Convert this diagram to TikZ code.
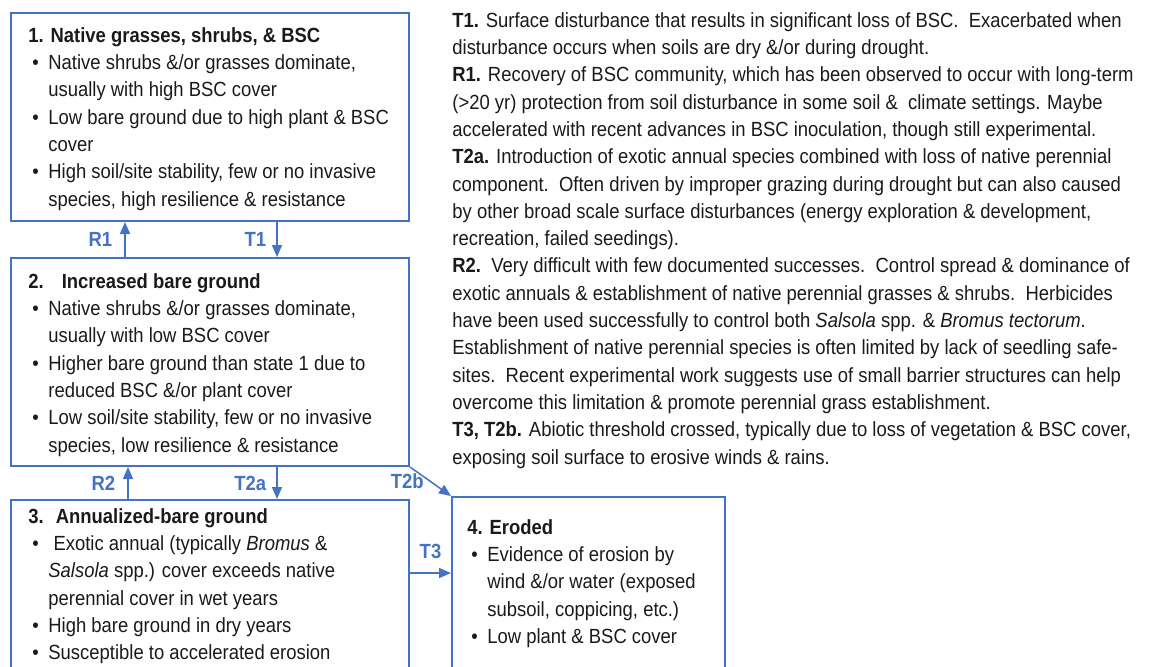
\documentclass[tikz,border=0pt]{standalone}
\usepackage{fontspec}
\setmainfont[FakeStretch=0.9]{Liberation Sans}
\usetikzlibrary{positioning,arrows.meta}
\definecolor{stateblue}{HTML}{4472C4}
\definecolor{inkgray}{HTML}{1A1A1A}
\newcommand{\bitem}{\makebox[10pt][l]{\hspace{2pt}\textbullet}}
\newcommand{\bcont}{\hspace*{10pt}}

\begin{document}
\begin{tikzpicture}[x=0.5pt, y=-0.5pt,
    every node/.style={font=\fontsize{10.25pt}{13.65pt}\selectfont},
    statebox/.style={draw=stateblue, line width=1pt, rectangle, inner sep=0pt,
                     anchor=north west},
    boxtext/.style={inner sep=0pt, align=left, text=inkgray},
    trans/.style={-{Triangle[length=6pt,width=5pt]}, draw=stateblue, line width=0.75pt},
    translabel/.style={text=stateblue, font=\fontsize{10.25pt}{13.65pt}\selectfont\bfseries,
                       inner sep=1pt},
]
\useasboundingbox (0,0) rectangle (1149,666);
\clip (0,0) rectangle (1149,666);

% --- State boxes (3 and 4 run off the bottom edge) ---
\node[statebox, minimum width=199pt, minimum height=104pt] (s1) at (10,12) {};
\node[statebox, minimum width=199pt, minimum height=104pt] (s2) at (10,257) {};
\node[statebox, minimum width=199pt, minimum height=120pt] (s3) at (10,499) {};
\node[statebox, minimum width=136.5pt, minimum height=120pt] (s4) at (451,496) {};

% --- Box contents ---
\node[boxtext, below right=7.5pt and 9pt of s1.north west] (s1txt)
  {\textbf{1. Native grasses, shrubs, \& BSC}\\
   \bitem Native shrubs \&/or grasses dominate,\\
   \bcont usually with high BSC cover\\
   \bitem Low bare ground due to high plant \& BSC\\
   \bcont cover\\
   \bitem High soil/site stability, few or no invasive\\
   \bcont species, high resilience \& resistance};

\node[boxtext, below right=8pt and 9pt of s2.north west] (s2txt)
  {\textbf{2.\hspace{9pt}Increased bare ground}\\
   \bitem Native shrubs \&/or grasses dominate,\\
   \bcont usually with low BSC cover\\
   \bitem Higher bare ground than state 1 due to\\
   \bcont reduced BSC \&/or plant cover\\
   \bitem Low soil/site stability, few or no invasive\\
   \bcont species, low resilience \& resistance};

\node[boxtext, below right=4.5pt and 9pt of s3.north west] (s3txt)
  {\textbf{3.\hspace{6pt}Annualized-bare ground}\\
   \bitem\ Exotic annual (typically \textit{Bromus} \&\\
   \bcont \textit{Salsola} spp.) cover exceeds native\\
   \bcont perennial cover in wet years\\
   \bitem High bare ground in dry years\\
   \bitem Susceptible to accelerated erosion};

\node[boxtext, below right=11.5pt and 8pt of s4.north west] (s4txt)
  {\textbf{4. Eroded}\\
   \bitem Evidence of erosion by\\
   \bcont wind \&/or water (exposed\\
   \bcont subsoil, coppicing, etc.)\\
   \bitem Low plant \& BSC cover};

% --- Transition / restoration notes ---
\node[boxtext, anchor=north west] (notes) at (452,12)
  {\textbf{T1.} Surface disturbance that results in significant loss of BSC.\ \ Exacerbated when\\
   disturbance occurs when soils are dry \&/or during drought.\\
   \textbf{R1.} Recovery of BSC community, which has been observed to occur with long-term\\
   (>20 yr) protection from soil disturbance in some soil \&\ \ climate settings. Maybe\\
   accelerated with recent advances in BSC inoculation, though still experimental.\\
   \textbf{T2a.} Introduction of exotic annual species combined with loss of native perennial\\
   component.\ \ Often driven by improper grazing during drought but can also caused\\
   by other broad scale surface disturbances (energy exploration \& development,\\
   recreation, failed seedings).\\
   \textbf{R2.}\ \ Very difficult with few documented successes.\ \ Control spread \& dominance of\\
   exotic annuals \& establishment of native perennial grasses \& shrubs.\ \ Herbicides\\
   have been used successfully to control both \textit{Salsola} spp. \& \textit{Bromus tectorum}.\\
   Establishment of native perennial species is often limited by lack of seedling safe-\\
   sites.\ \ Recent experimental work suggests use of small barrier structures can help\\
   overcome this limitation \& promote perennial grass establishment.\\
   \textbf{T3, T2b.} Abiotic threshold crossed, typically due to loss of vegetation \& BSC cover,\\
   exposing soil surface to erosive winds \& rains.};

% --- Transitions between states ---
\draw[trans] ([xshift=57.5pt]s2.north west) -- ([xshift=57.5pt]s1.south west)
  node[translabel, midway, left=5pt] (lr1) {R1};
\draw[trans] ([xshift=133.5pt]s1.south west) -- ([xshift=133.5pt]s2.north west)
  node[translabel, midway, left=4pt] (lt1) {T1};
\draw[trans] ([xshift=59pt]s3.north west) -- ([xshift=59pt]s2.south west)
  node[translabel, midway, left=5pt] (lr2) {R2};
\draw[trans] ([xshift=133.5pt]s2.south west) -- ([xshift=133.5pt]s3.north west)
  node[translabel, midway, left=4pt] (lt2a) {T2a};
\draw[trans] (s2.south east) -- (s4.north west)
  node[translabel, midway, left=2pt] (lt2b) {T2b};
\draw[trans] ([yshift=-37pt]s3.north east) coordinate (t3a) -- (t3a -| s4.west)
  node[translabel, midway, above=6pt] (lt3) {T3};

\end{tikzpicture}
\end{document}
